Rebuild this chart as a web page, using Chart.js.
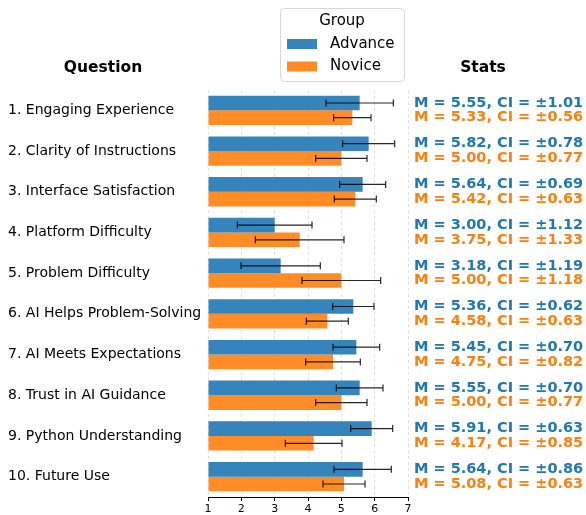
<!DOCTYPE html>
<html>
<head>
<meta charset="utf-8">
<title>Survey results by group</title>
<script src="https://cdn.jsdelivr.net/npm/chart.js@4.4.0/dist/chart.umd.min.js"></script>
<style>
    body { margin: 0; background: #fff; }
    #wrap { width: 586px; height: 515px; }
</style>
</head>
<body>
<div id="wrap"><canvas id="surveyChart" width="586" height="515"></canvas></div>
<script>
const questions = [
    '1. Engaging Experience',
    '2. Clarity of Instructions',
    '3. Interface Satisfaction',
    '4. Platform Difficulty',
    '5. Problem Difficulty',
    '6. AI Helps Problem-Solving',
    '7. AI Meets Expectations',
    '8. Trust in AI Guidance',
    '9. Python Understanding',
    '10. Future Use'
];
const advanceMean = [5.55, 5.82, 5.64, 3.00, 3.18, 5.36, 5.45, 5.55, 5.91, 5.64];
const advanceCI = [1.01, 0.78, 0.69, 1.12, 1.19, 0.62, 0.70, 0.70, 0.63, 0.86];
const noviceMean = [5.33, 5.00, 5.42, 3.75, 5.00, 4.58, 4.75, 5.00, 4.17, 5.08];
const noviceCI = [0.56, 0.77, 0.63, 1.33, 1.18, 0.63, 0.82, 0.77, 0.85, 0.63];

const FONT = "'DejaVu Sans', sans-serif";
const BLUE = 'rgb(31, 119, 180)';
const ORANGE = 'rgb(255, 127, 14)';

Chart.defaults.font.family = FONT;
Chart.defaults.color = '#000';

// error bars, stats column, headers and the legend box
const extras = {
    id: 'extras',
    afterDatasetsDraw(chart) {
        const ctx = chart.ctx;
        const x = chart.scales.x;
        ctx.save();
        ctx.strokeStyle = 'rgba(0, 0, 0, 0.85)';
        ctx.lineWidth = 1.2;
        chart.data.datasets.forEach((ds, i) => {
            chart.getDatasetMeta(i).data.forEach((bar, j) => {
                const lo = x.getPixelForValue(ds.data[j] - ds.ci[j]);
                const hi = x.getPixelForValue(ds.data[j] + ds.ci[j]);
                const y = bar.y;
                ctx.beginPath();
                ctx.moveTo(lo, y); ctx.lineTo(hi, y);
                ctx.moveTo(lo, y - 3.5); ctx.lineTo(lo, y + 3.5);
                ctx.moveTo(hi, y - 3.5); ctx.lineTo(hi, y + 3.5);
                ctx.stroke();
            });
        });
        ctx.restore();
    },
    afterDraw(chart) {
        const ctx = chart.ctx;
        const area = chart.chartArea;
        ctx.save();

        // stats column
        ctx.font = 'bold 14.5px ' + FONT;
        ctx.textAlign = 'left';
        ctx.textBaseline = 'middle';
        chart.data.datasets.forEach((ds, i) => {
            ctx.fillStyle = ds.textColor;
            chart.getDatasetMeta(i).data.forEach((bar, j) => {
                const txt = 'M = ' + ds.data[j].toFixed(2) + ', CI = ±' + ds.ci[j].toFixed(2);
                ctx.fillText(txt, area.right + 6, bar.y);
            });
        });

        // column headers
        ctx.fillStyle = '#000';
        ctx.font = 'bold 15.5px ' + FONT;
        ctx.textAlign = 'center';
        ctx.fillText('Question', 103, 68);
        ctx.fillText('Stats', 483, 68);

        // legend
        const lx = 280, ly = 8, lw = 124, lh = 73;
        ctx.fillStyle = 'rgba(255, 255, 255, 0.8)';
        ctx.strokeStyle = '#d6d6d6';
        ctx.lineWidth = 1;
        ctx.beginPath();
        ctx.roundRect(lx + 0.5, ly + 0.5, lw, lh, 4);
        ctx.fill();
        ctx.stroke();
        ctx.fillStyle = '#000';
        ctx.font = '15px ' + FONT;
        ctx.fillText('Group', lx + lw / 2, 21);
        ctx.textAlign = 'left';
        chart.data.datasets.forEach((ds, i) => {
            const cy = 44 + i * 22.5;
            ctx.fillStyle = ds.backgroundColor;
            ctx.fillRect(287, cy - 5, 30, 10);
            ctx.fillStyle = '#000';
            ctx.fillText(ds.label, 330, cy);
        });
        ctx.restore();
    }
};

new Chart(document.getElementById('surveyChart'), {
    type: 'bar',
    data: {
        labels: questions,
        datasets: [
            {
                label: 'Advance',
                data: advanceMean,
                ci: advanceCI,
                base: 1,
                backgroundColor: 'rgba(31, 119, 180, 0.9)',
                textColor: BLUE,
                categoryPercentage: 0.72,
                barPercentage: 1
            },
            {
                label: 'Novice',
                data: noviceMean,
                ci: noviceCI,
                base: 1,
                backgroundColor: 'rgba(255, 127, 14, 0.9)',
                textColor: ORANGE,
                categoryPercentage: 0.72,
                barPercentage: 1
            }
        ]
    },
    options: {
        indexAxis: 'y',
        responsive: false,
        animation: false,
        events: [],
        layout: {
            padding: { left: 8, right: 178, top: 90, bottom: 0 }
        },
        plugins: {
            legend: { display: false },
            tooltip: { enabled: false }
        },
        scales: {
            x: {
                min: 1,
                max: 7,
                afterFit: scale => { scale.height = 18; },
                ticks: {
                    stepSize: 1,
                    padding: 2,
                    font: { size: 11 },
                    color: '#000'
                },
                grid: {
                    color: 'rgba(0, 0, 0, 0.12)',
                    tickColor: '#000',
                    tickLength: 4,
                    tickBorderDash: []
                },
                border: {
                    color: '#000',
                    width: 1,
                    dash: [3, 3]
                }
            },
            y: {
                afterFit: scale => { scale.width = 200; },
                ticks: {
                    crossAlign: 'far',
                    font: { size: 14 },
                    color: '#000'
                },
                grid: { display: false },
                border: { display: false }
            }
        }
    },
    plugins: [extras]
});
</script>
</body>
</html>
